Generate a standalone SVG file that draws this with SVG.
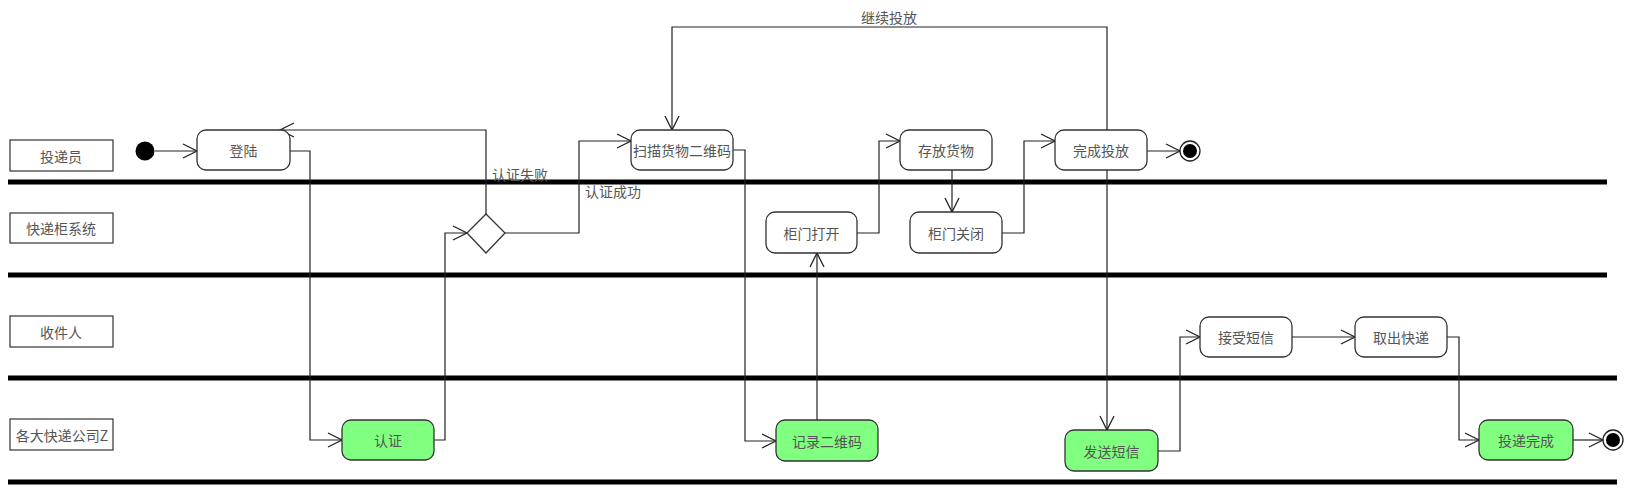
<svg xmlns="http://www.w3.org/2000/svg" width="1627" height="490" viewBox="0 0 1627 490">
<style>
text{font-family:"Noto Sans CJK SC","Liberation Sans",sans-serif;font-size:14px;fill:#555;text-anchor:middle;dominant-baseline:central}
.lane{fill:#fff;stroke:#333;stroke-width:1.2}
.sep{stroke:#000;stroke-width:5}
.act{fill:#fff;stroke:#333;stroke-width:1.3}
.g{fill:#80ff80}
.c{fill:none;stroke:#222;stroke-width:1.2;marker-end:url(#a)}
.lbl{text-anchor:start}
</style>
<defs>
<marker id="a" markerUnits="userSpaceOnUse" markerWidth="20" markerHeight="20" refX="15" refY="8" orient="auto">
<path d="M1,1 L15,8 L1,15" fill="none" stroke="#222" stroke-width="1.3"/>
</marker>
</defs>
<g id="lanes">
<line class="sep" x1="8" y1="182" x2="1607" y2="182"/>
<line class="sep" x1="8" y1="275" x2="1607" y2="275"/>
<line class="sep" x1="8" y1="378" x2="1617" y2="378"/>
<line class="sep" x1="8" y1="482" x2="1617" y2="482"/>
<g id="lane1"><rect class="lane" x="10" y="140" width="103" height="31"/><text x="61" y="155.5">投递员</text></g>
<g id="lane2"><rect class="lane" x="10" y="213" width="103" height="30"/><text x="61" y="228">快递柜系统</text></g>
<g id="lane3"><rect class="lane" x="10" y="316" width="103" height="31"/><text x="61" y="331.5">收件人</text></g>
<g id="lane4"><rect class="lane" x="10" y="419" width="103" height="31"/><text x="62" y="434.5">各大快递公司Z</text></g>
</g>
<g id="connectors">
<path class="c" d="M155,151 H197"/>
<path class="c" d="M290,151 H310 V440 H342"/>
<path class="c" d="M434,440 H445 V233 H467"/>
<path class="c" d="M486,214 V130 H280"/>
<path class="c" d="M505,233 H579 V141 H631"/>
<path class="c" d="M733,150 H745 V441 H776"/>
<path class="c" d="M817,420 V253"/>
<path class="c" d="M857,233 H879 V141 H900"/>
<path class="c" d="M952,170 V212"/>
<path class="c" d="M1002,233 H1024 V141 H1055"/>
<path class="c" d="M1147,151 H1180"/>
<path class="c" d="M1107,130 V27 H672 V130"/>
<path class="c" d="M1107,170 V430"/>
<path class="c" d="M1158,451 H1180 V337 H1200"/>
<path class="c" d="M1292,337 H1355"/>
<path class="c" d="M1447,337 H1459 V440 H1479"/>
<path class="c" d="M1573,440 H1603"/>
<text class="lbl" x="492" y="174">认证失败</text>
<text class="lbl" x="585" y="191">认证成功</text>
<text x="889" y="17">继续投放</text>
</g>
<g id="start"><circle cx="145" cy="151" r="9.5" fill="#000"/></g>
<g id="n1"><rect class="act" x="197" y="130" width="93" height="40" rx="9"/><text x="243.5" y="150">登陆</text></g>
<g id="n2"><rect class="act g" x="342" y="420" width="92" height="40" rx="9"/><text x="388" y="440">认证</text></g>
<g id="decision"><path class="act" d="M486,214 L505,233 L486,253 L467,233 Z"/></g>
<g id="n3"><rect class="act" x="631" y="130" width="102" height="40" rx="9"/><text x="682" y="150">扫描货物二维码</text></g>
<g id="n4"><rect class="act g" x="776" y="420" width="102" height="41" rx="9"/><text x="827" y="440.5">记录二维码</text></g>
<g id="n5"><rect class="act" x="766" y="212" width="91" height="41" rx="9"/><text x="811.5" y="232.5">柜门打开</text></g>
<g id="n6"><rect class="act" x="900" y="130" width="92" height="40" rx="9"/><text x="946" y="150">存放货物</text></g>
<g id="n7"><rect class="act" x="910" y="212" width="92" height="41" rx="9"/><text x="956" y="232.5">柜门关闭</text></g>
<g id="n8"><rect class="act" x="1055" y="130" width="92" height="40" rx="9"/><text x="1101" y="150">完成投放</text></g>
<g id="end1"><circle cx="1190" cy="151" r="10" fill="#fff" stroke="#222" stroke-width="1.3"/><circle cx="1190" cy="151" r="7" fill="#000"/></g>
<g id="n9"><rect class="act g" x="1065" y="430" width="93" height="41" rx="9"/><text x="1111.5" y="450.5">发送短信</text></g>
<g id="n10"><rect class="act" x="1200" y="317" width="92" height="40" rx="9"/><text x="1246" y="337">接受短信</text></g>
<g id="n11"><rect class="act" x="1355" y="317" width="92" height="40" rx="9"/><text x="1401" y="337">取出快递</text></g>
<g id="n12"><rect class="act g" x="1479" y="420" width="94" height="40" rx="9"/><text x="1526" y="440">投递完成</text></g>
<g id="end2"><circle cx="1613" cy="440" r="10" fill="#fff" stroke="#222" stroke-width="1.3"/><circle cx="1613" cy="440" r="7" fill="#000"/></g>
</svg>
